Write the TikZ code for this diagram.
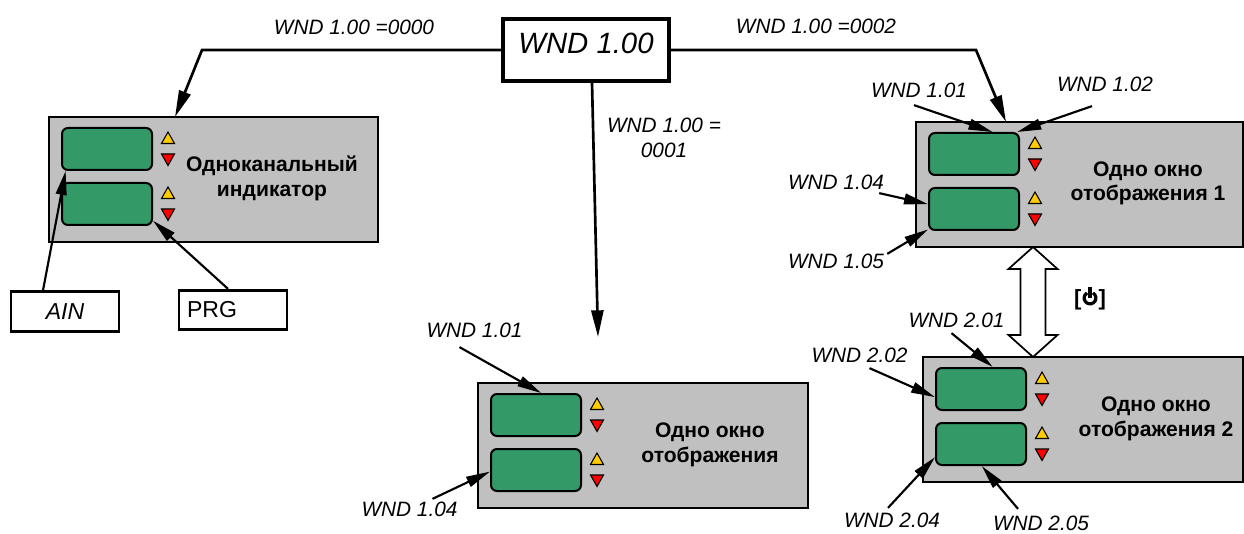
\documentclass[tikz,border=0pt]{standalone}
\usepackage{fontspec}
\setmainfont{Liberation Sans}
\usetikzlibrary{arrows.meta,calc}
\definecolor{panelgray}{RGB}{192,192,192}
\definecolor{dispgreen}{RGB}{51,153,102}
\definecolor{keyyellow}{RGB}{255,204,0}
\definecolor{keyred}{RGB}{255,0,0}

\begin{document}
\begin{tikzpicture}[
  x=0.75pt,
  y=-0.75pt,
  conn/.style={
    draw=black,
    line width=2pt
  },
  conn arrow/.style={
    conn,
    -{Triangle[length=20pt,width=9pt]}
  },
  tag arrow/.style={
    draw=black,
    line width=1.6pt,
    -{Triangle[length=18pt,width=8pt]}
  },
  hollow/.style={
    draw=black,
    fill=white,
    line width=1.3pt
  },
  panel box/.style={
    draw=black,
    fill=panelgray,
    line width=1.9pt,
    minimum height=93.75pt,
    inner sep=0pt,
    outer sep=0pt,
    anchor=north west
  },
  disp/.style={
    draw=black,
    fill=dispgreen,
    rounded corners=4.5pt,
    line width=1.5pt,
    minimum width=67.5pt,
    minimum height=31.5pt,
    inner sep=0pt
  },
  key up/.style={draw=black, line width=0.8pt, fill=keyyellow},
  key down/.style={draw=black, line width=0.8pt, fill=keyred},
  panel text/.style={
    font=\bfseries\fontsize{15.8pt}{18.5pt}\selectfont,
    align=center,
    inner sep=0pt
  },
  tag/.style={
    font=\itshape\fontsize{15.6pt}{18.75pt}\selectfont,
    inner sep=0pt
  },
  param box/.style={
    draw=black,
    line width=2.5pt,
    minimum width=124.5pt,
    minimum height=46.5pt,
    font=\itshape\fontsize{22pt}{26pt}\selectfont,
    text depth=10pt
  },
  io box/.style={
    draw=black,
    line width=2.2pt,
    minimum width=81pt,
    minimum height=29.5pt,
    font=\fontsize{17.3pt}{20pt}\selectfont
  },
  pics/panel/.style n args={3}{
    code={
      \node[panel box, minimum width={#1*0.75pt}] (-box) at (0,0) {};
      \node[disp] (-d1) at (58,32) {};
      \node[disp] (-d2) at (58,87) {};
      \foreach \ky in {21,76}{
        \draw[key up] (112.5,\ky+5.5) -- (125.5,\ky+5.5) -- (119,\ky-6) -- cycle;
        \draw[key down] (112.5,\ky+16) -- (125.5,\ky+16) -- (119,\ky+27.5) -- cycle;
      }
      \node[panel text] (-txt) at (#2,61.5) {#3};
    }
  }
]
\useasboundingbox (0,0) rectangle (1244,534);

% parameter selecting the display mode
\node[param box] (wnd) at (586,50) {WND 1.00};
\node[tag] (sel0) at (354,27) {WND 1.00 =0000};
\node[tag] (sel2) at (816,26) {WND 1.00 =0002};
\node[tag, align=center] (sel1) at (664,138) {WND 1.00 =\\0001};

% the four front panels
\pic (p1) at (49,117) {panel={329}{223}{Одноканальный\\индикатор}};
\pic (p2) at (478,383) {panel={330}{232}{Одно окно\\отображения}};
\pic (p3) at (916,122) {panel={327}{232}{Одно окно\\отображения 1}};
\pic (p4) at (923,357) {panel={320}{233}{Одно окно\\отображения 2}};

% mode branches
\draw[conn arrow] (wnd.west) -- (202,50) -- ($(p1-box.north west)+(126,0)$);
\draw[conn arrow] (wnd.east) -- (976,50) -- ($(p3-box.north west)+(90,0)$);
\coordinate (p2-in) at (598,337);
\draw[conn arrow] ($(wnd.south)+(6,0)$) -- (p2-in);

% single channel indicator
\node[io box, font=\itshape\fontsize{17.3pt}{20pt}\selectfont] (ain) at (65,311.5) {AIN};
\node[io box, inner xsep=6pt, text width=69pt, align=left] (prg) at (233,310) {PRG};
\draw[tag arrow] ($(ain.north)+(-22,0)$) -- (p1-d1.208);
\draw[tag arrow] ($(prg.north)+(-5,0)$) -- (p1-d2.340);

% one display window
\node[tag] (w101a) at (474.5,330.5) {WND 1.01};
\node[tag] (w104a) at (409.5,509.5) {WND 1.04};
\draw[tag arrow] ($(w101a.south)+(-15,9)$) -- (p2-d1.77);
\draw[tag arrow] ($(w104a.north)+(23,-3)$) -- (p2-d2.182);

% display window 1
\node[tag] (w101b) at (919,90.5) {WND 1.01};
\node[tag] (w102b) at (1105,84.5) {WND 1.02};
\node[tag] (w104b) at (836,182.5) {WND 1.04};
\node[tag] (w105b) at (836,261.5) {WND 1.05};
\draw[tag arrow] ($(w101b.south)+(-5,7)$) -- (p3-d1.50);
\draw[tag arrow] ($(w102b.south)+(-13,14)$) -- (p3-d1.27);
\draw[tag arrow] ($(w104b.south east)+(-5,3)$) -- (p3-d2.174);
\draw[tag arrow] ($(w105b.north east)+(3,0)$) -- (p3-d2.204);

% display window 2
\node[tag] (w201) at (956.5,320.5) {WND 2.01};
\node[tag] (w202) at (859.5,355.5) {WND 2.02};
\node[tag] (w204) at (892,520.5) {WND 2.04};
\node[tag] (w205) at (1041,523.5) {WND 2.05};
\draw[tag arrow] ($(w201.south)+(-5,5)$) -- (p4-d1.62);
\draw[tag arrow] ($(w202.south)+(10,5)$) -- (p4-d1.190);
\draw[tag arrow] ($(w204.north)+(-4,-5)$) -- (p4-d2.196);
\draw[tag arrow] ($(w205.north)+(-23,-7)$) -- (p4-d2.272);

% switching between window 1 and 2 with the power key
\coordinate (swap-top) at ($(p3-box.south west)+(117,0)$);
\coordinate (swap-bot) at (swap-top |- p4-box.north);
\draw[hollow] (swap-top) -- ++(24.5,22) -- ++(-12,0) -- ++(0,66) -- ++(12,0)
  -- (swap-bot) -- ++(-24.5,-22) -- ++(12,0) -- ++(0,-66) -- ++(-12,0) -- cycle;
\node[font=\bfseries\fontsize{16.5pt}{20pt}\selectfont, inner sep=0pt] (pwr) at (1090,300) {[\hspace{13pt}]};
\draw[line width=2.4pt] ([yshift=1.5pt]pwr.center) ++(60:4.4pt)
  arc[start angle=60, end angle=-240, radius=4.4pt];
\draw[line width=2.4pt] ([yshift=1.5pt]pwr.center) -- ++(0pt,8.5pt);

\end{tikzpicture}
\end{document}
